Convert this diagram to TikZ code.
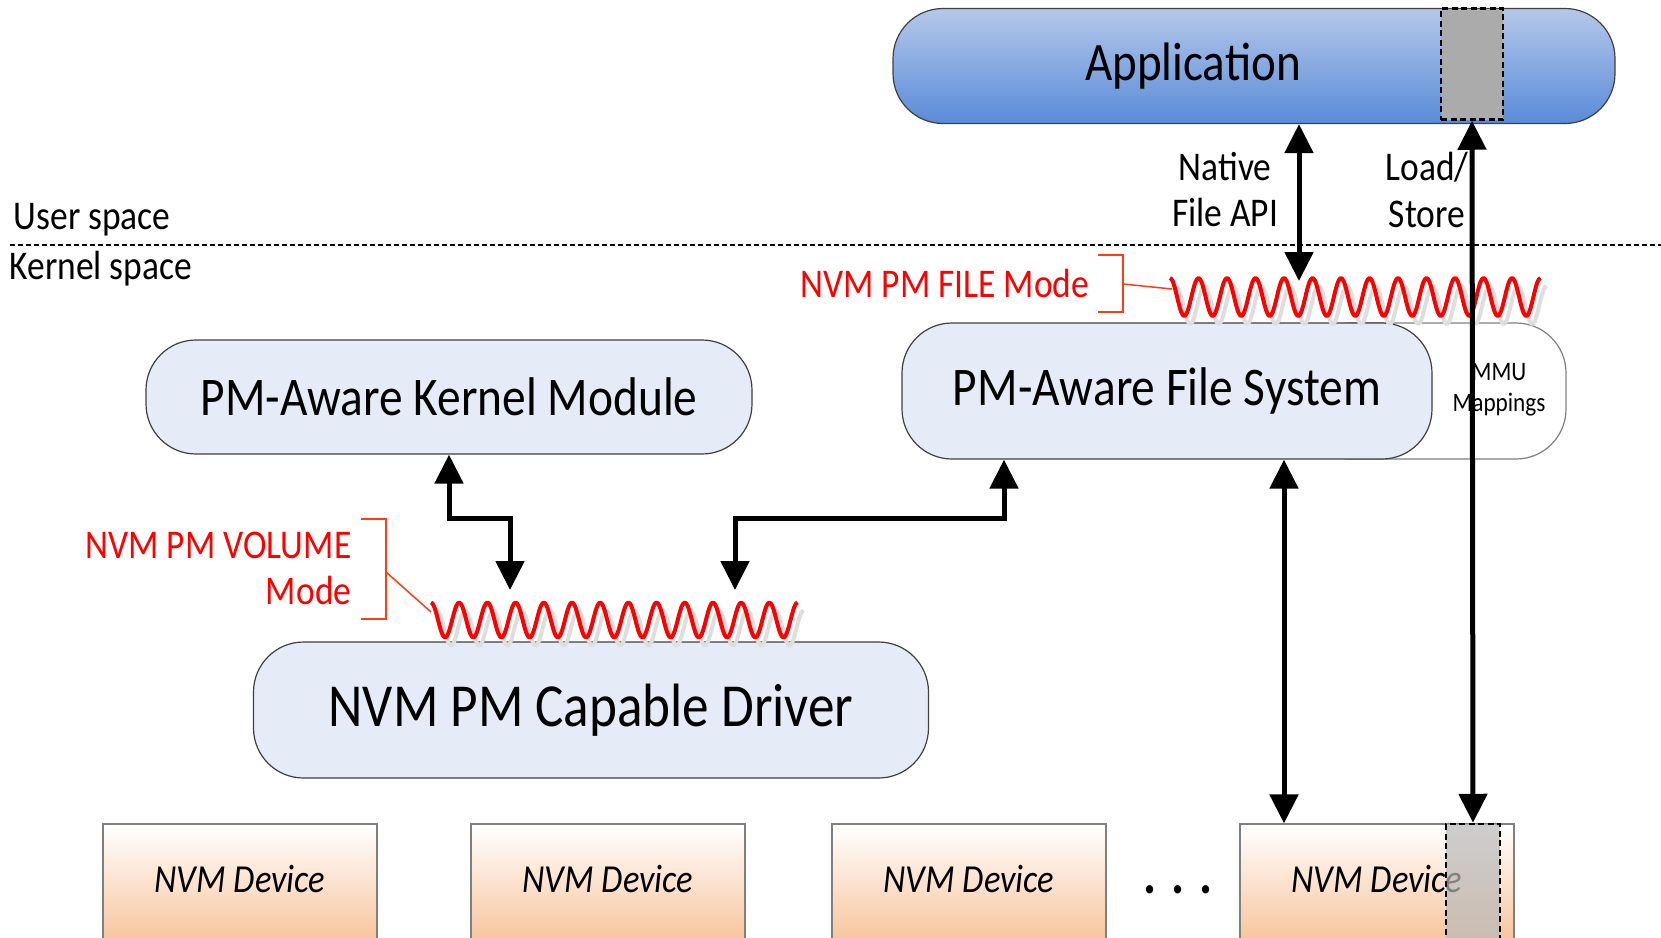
\documentclass[tikz,border=0pt]{standalone}
\usepackage{fontspec}
\setmainfont{Carlito}[FakeStretch=0.87]
\usetikzlibrary{arrows.meta}

\definecolor{boxfill}{HTML}{E6ECF7}
\definecolor{boxline}{HTML}{404040}
\definecolor{apptop}{HTML}{B4C8E9}
\definecolor{appbot}{HTML}{5A8BD9}
\definecolor{devpeach}{HTML}{F7C39A}
\definecolor{pmred}{HTML}{FF0000}
\definecolor{brkred}{HTML}{FF3C14}
\definecolor{shadowgray}{HTML}{DEDEDE}
\definecolor{buffgray}{HTML}{ABABAB}

\tikzset{
  pmbox/.style={draw=boxline, line width=0.12mm, fill=boxfill, rounded corners=5mm, inner sep=0pt},
  device/.style={draw=gray, line width=0.12mm, top color=white, bottom color=devpeach,
    minimum width=27.4mm, minimum height=12mm, inner sep=0pt, text depth=1mm,
    font=\fontsize{11.3}{13}\selectfont\itshape},
  buffer/.style={draw=black, line width=0.25mm, dash pattern=on 0.6mm off 0.35mm, inner sep=0pt},
  biarrow/.style={{Triangle[length=2.9mm, width=2.8mm]}-{Triangle[length=2.9mm, width=2.8mm]}, line width=0.5mm},
  wave/.style={pmred, line width=0.4mm, line join=round},
  bracket/.style={brkred, line width=0.15mm},
  lbl/.style={inner sep=0pt, font=\fontsize{11.6}{13.1}\selectfont},
  modelbl/.style={lbl, text=pmred}
}

\begin{document}
\begin{tikzpicture}[x=0.1mm, y=-0.1mm]
    \useasboundingbox (0,0) rectangle (1661,937);

    % User / kernel boundary
    \draw[line width=0.15mm, dash pattern=on 0.5mm off 0.3mm] (10,245) -- (1661,245);
    \node[lbl, anchor=west] (user) at (13,220) {User space};
    \node[lbl, anchor=west] (kernel) at (9,269) {Kernel space};

    % Application with mapped buffer
    \node[pmbox, top color=apptop, bottom color=appbot, minimum width=72.2mm, minimum height=11.5mm,
        font=\fontsize{15.4}{18}\selectfont] (app) at (1254,66) {Application\hspace*{12.2mm}};
    \node[buffer, fill=buffgray, minimum width=6.2mm, minimum height=11.1mm] (appbuf) at (1472,64) {};
    \node[lbl, align=center] (native) at (1225,190) {Native\\File API};
    \node[lbl, align=center] (ldst) at (1427,190) {Load/\\Store};

    % Kernel module
    \node[pmbox, minimum width=60.6mm, minimum height=11.4mm, font=\fontsize{15.5}{18}\selectfont] (kmod) at (449,397) {PM-Aware Kernel Module};

    % File system (MMU mappings behind it)
    \node[pmbox, fill=white, draw=gray, minimum width=26.6mm, minimum height=13.6mm] (mmu) at (1433,391) {};
    \node[inner sep=0pt, align=center, font=\fontsize{7.6}{8.8}\selectfont] (mmutxt) at (1499,390) {MMU\\Mappings};
    \node[pmbox, minimum width=53mm, minimum height=13.6mm, font=\fontsize{15.5}{18}\selectfont] (pmfs) at (1167,391) {PM-Aware File System};

    % Driver
    \node[pmbox, minimum width=67.5mm, minimum height=13.6mm, font=\fontsize{17.4}{20}\selectfont] (driver) at (591,710) {NVM PM Capable Driver};

    % Devices
    \foreach \x/\n in {240/1, 608/2, 969/3, 1377/4}
        \node[device] (dev\n) at (\x,884) {NVM Device};
    \node[buffer, fill=gray!55, fill opacity=0.7, minimum width=5.4mm, minimum height=12mm] (devbuf) at (1473,884) {};
    \node[anchor=base, inner sep=0pt, font=\fontsize{16}{18}\selectfont\bfseries] (dots) at (1178,893) {. . .};

    % Wavy PM interfaces (with soft shadow)
    \foreach \dx/\dy/\c in {6/8/shadowgray, 0/0/pmred} {
        \draw[wave, \c] plot[domain=0:13, samples=261, smooth] ({1170+\dx+28.5*\x}, {297+\dy-19*cos(360*\x)});
        \draw[wave, \c] plot[domain=0:13, samples=261, smooth] ({431+\dx+28.2*\x}, {620+\dy-17.5*cos(360*\x)});
    }
    \coordinate (fwave) at (1170,281);
    \coordinate (vwave) at (431,590);

    % Mode labels
    \node[modelbl, anchor=east] (filemode) at (1090,283) {NVM PM FILE Mode};
    \draw[bracket] (1098,255) -| (1123,312) -- (1098,312);
    \draw[bracket] (1123,284) -- (1172,289);
    \node[modelbl, anchor=east, align=right] (volmode) at (352,568) {NVM PM VOLUME\\Mode};
    \draw[bracket] (361,519) -| (386,619) -- (361,619);
    \draw[bracket] (386,572) -- (431,612);

    % Data paths
    \draw[biarrow] ([xshift=4.5mm]app.south) -- ([xshift=4.5mm]app.south |- fwave);
    \draw[biarrow] (appbuf.south) -- (devbuf.north);
    \draw[biarrow] ([xshift=11.7mm]pmfs.south) -- ([xshift=11.7mm]pmfs.south |- dev4.north);
    \draw[biarrow] (kmod.south) -- ++(0,64) -| ([xshift=7.9mm]vwave);
    \draw[biarrow] ([xshift=-16.3mm]pmfs.south) -- ++(0,59) -| ([xshift=30.4mm]vwave);
\end{tikzpicture}
\end{document}
